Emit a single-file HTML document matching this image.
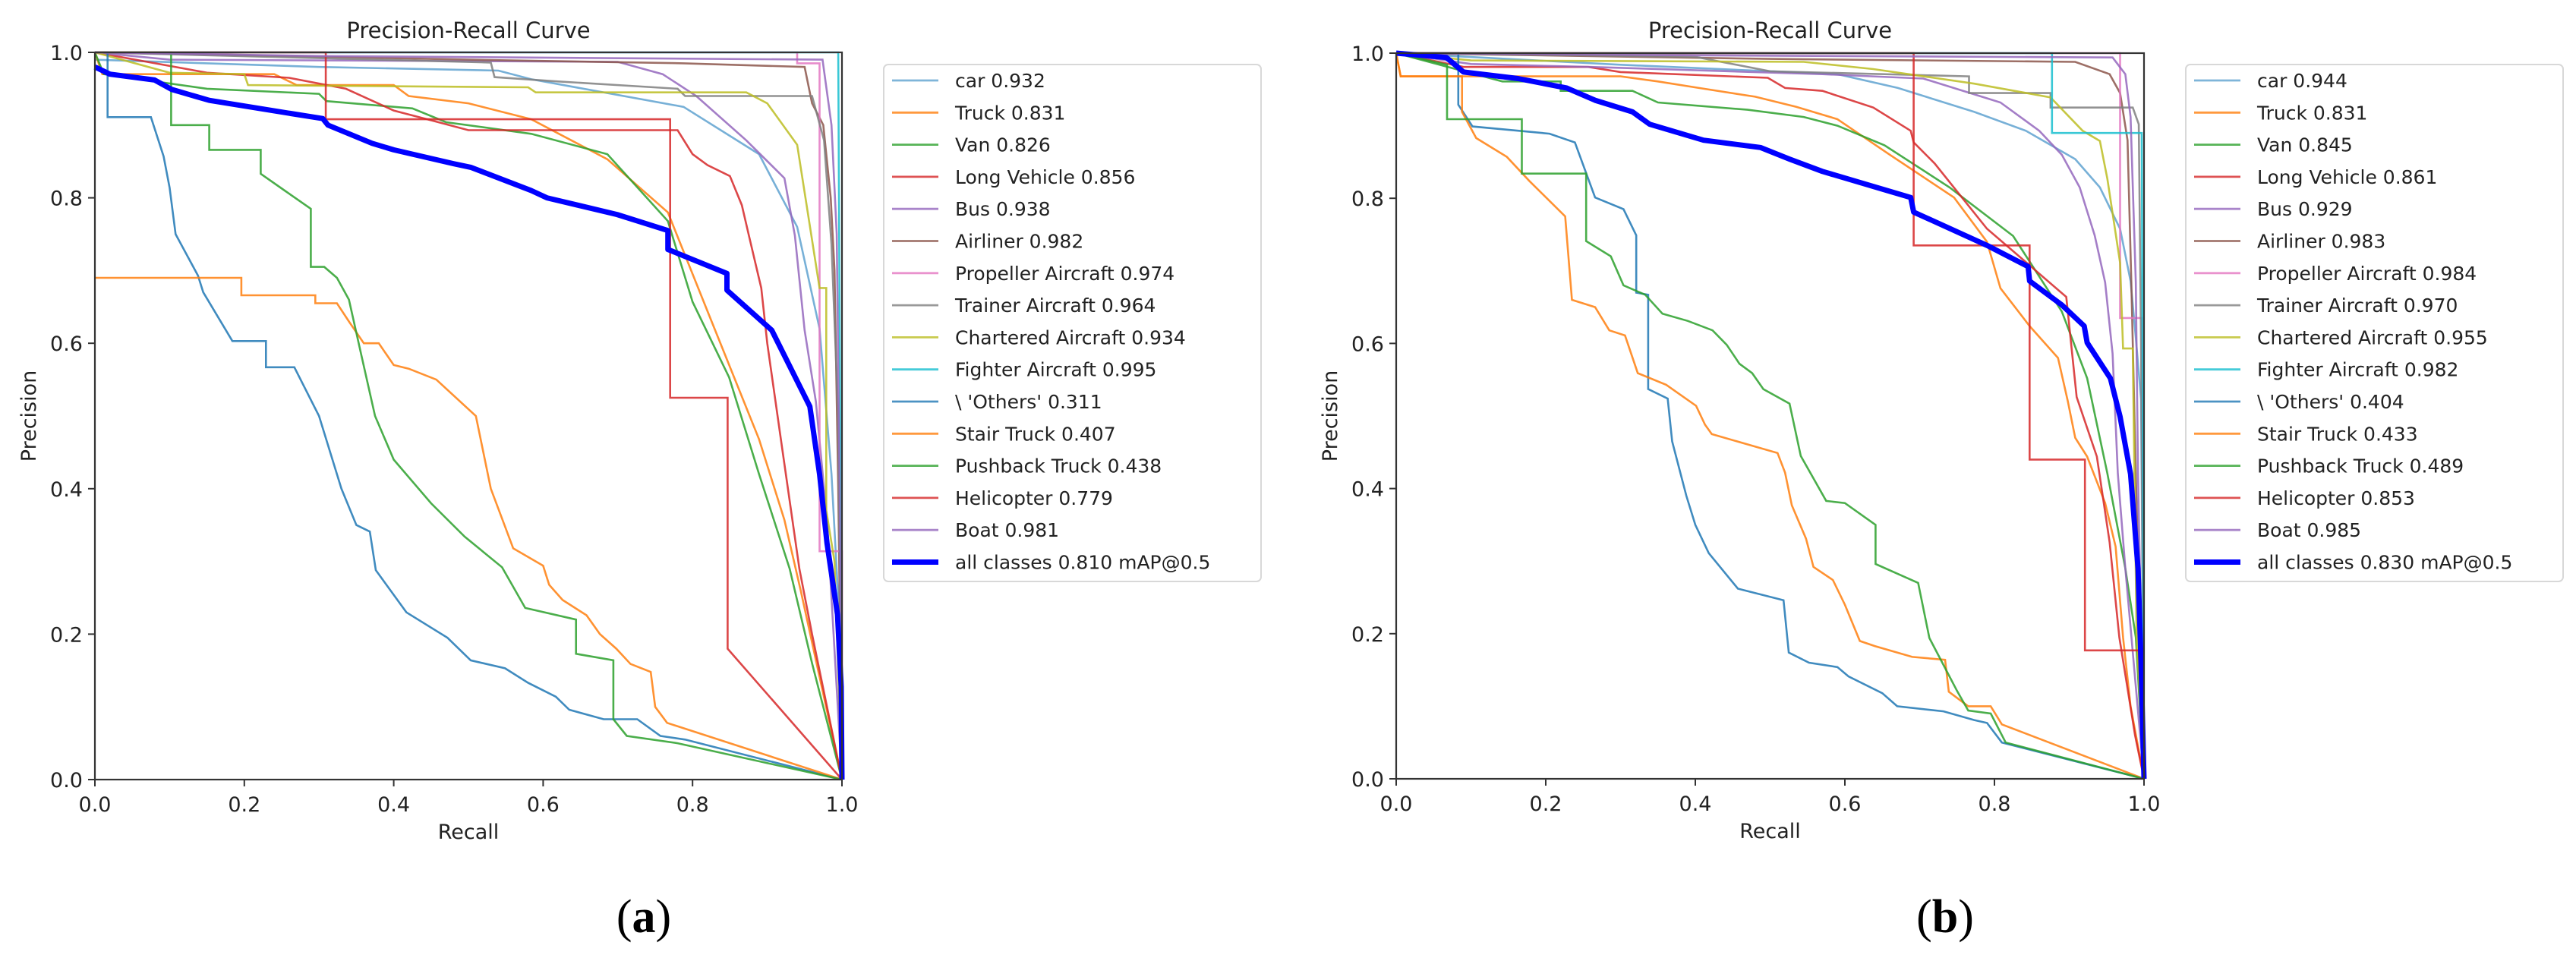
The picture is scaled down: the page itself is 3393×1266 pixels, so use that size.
<!DOCTYPE html>
<html><head><meta charset="utf-8">
<style>
html,body{margin:0;padding:0;background:#fff;}
svg{display:block;}
text{font-family:"DejaVu Sans","Liberation Sans",sans-serif;fill:#222;}
.cap{font-family:"Liberation Serif",serif;fill:#000;}
</style></head>
<body>
<svg id="fig" width="3393" height="1266" viewBox="0 0 3393 1266" xmlns="http://www.w3.org/2000/svg">
<g id="panelA"></g>
<g id="panelB"></g>
<text class="cap" x="848" y="1228" font-size="62" text-anchor="middle">(<tspan font-weight="bold">a</tspan>)</text>
<text class="cap" x="2562" y="1228" font-size="62" text-anchor="middle">(<tspan font-weight="bold">b</tspan>)</text>
</svg>
<script>
// ---- shared ----
const tickValues = [0.0, 0.2, 0.4, 0.6, 0.8, 1.0];
const tickLabels = ["0.0", "0.2", "0.4", "0.6", "0.8", "1.0"];
const classNames = ["car","Truck","Van","Long Vehicle","Bus","Airliner","Propeller Aircraft","Trainer Aircraft","Chartered Aircraft","Fighter Aircraft","\\ 'Others'","Stair Truck","Pushback Truck","Helicopter","Boat"];
const classColors = ["#5fa2d0","#ff7f0e","#2ca02c","#d62728","#9467bd","#8c564b","#e377c2","#7f7f7f","#bcbd22","#17becf","#1f77b4","#ff7f0e","#2ca02c","#d62728","#9467bd"];

// ---- panel (a) values ----
const apA = [0.932,0.831,0.826,0.856,0.938,0.982,0.974,0.964,0.934,0.995,0.311,0.407,0.438,0.779,0.981];
const mapA = 0.810;
const a_car = [[0,0.99],[0.3,0.98],[0.54,0.975],[0.584,0.963],[0.788,0.925],[0.889,0.86],[0.94,0.76],[0.97,0.62],[0.986,0.42],[0.996,0.23],[1,0]];
const a_truck = [[0,1],[0.01,0.97],[0.24,0.97],[0.27,0.955],[0.4,0.955],[0.42,0.94],[0.5,0.93],[0.584,0.908],[0.686,0.853],[0.767,0.78],[0.82,0.644],[0.889,0.468],[0.923,0.357],[0.945,0.259],[1,0]];
const a_van = [[0,1],[0.012,0.97],[0.15,0.95],[0.3,0.943],[0.31,0.933],[0.425,0.923],[0.47,0.904],[0.584,0.888],[0.686,0.86],[0.767,0.768],[0.8,0.657],[0.849,0.553],[0.889,0.42],[0.93,0.29],[0.96,0.16],[1,0]];
const a_long = [[0,1],[0.15,0.972],[0.26,0.965],[0.336,0.95],[0.4,0.92],[0.456,0.905],[0.5,0.893],[0.78,0.893],[0.8,0.86],[0.82,0.845],[0.85,0.83],[0.866,0.79],[0.875,0.75],[0.892,0.676],[0.9,0.6],[0.92,0.455],[0.943,0.29],[0.96,0.2],[1,0]];
const a_bus = [[0,1],[0.1,0.99],[0.7,0.987],[0.76,0.97],[0.805,0.94],[0.872,0.879],[0.923,0.827],[0.937,0.748],[0.95,0.618],[0.965,0.52],[0.98,0.357],[1,0]];
const a_airliner = [[0,1],[0.5,0.99],[0.788,0.985],[0.95,0.98],[0.96,0.93],[0.975,0.9],[0.985,0.8],[0.99,0.7],[0.995,0.4],[1,0]];
const a_prop = [[0,1],[0.94,1],[0.94,0.985],[0.97,0.985],[0.97,0.314],[1,0.314],[1,0]];
const a_trainer = [[0,1],[0.53,0.986],[0.535,0.966],[0.62,0.96],[0.78,0.95],[0.79,0.94],[0.96,0.94],[0.976,0.879],[0.986,0.736],[0.995,0.5],[1,0]];
const a_charter = [[0,1],[0.1,0.972],[0.2,0.97],[0.205,0.955],[0.58,0.952],[0.59,0.945],[0.872,0.945],[0.9,0.93],[0.94,0.873],[0.97,0.676],[0.979,0.676],[0.979,0.37],[0.99,0.3],[1,0]];
const a_fighter = [[0,1],[0.995,1],[1,0]];
const a_others = [[0,1],[0.017,1],[0.017,0.911],[0.075,0.911],[0.092,0.857],[0.1,0.814],[0.108,0.75],[0.138,0.693],[0.145,0.67],[0.184,0.603],[0.229,0.603],[0.229,0.567],[0.267,0.567],[0.3,0.5],[0.33,0.4],[0.35,0.35],[0.368,0.341],[0.376,0.288],[0.417,0.23],[0.472,0.195],[0.503,0.164],[0.549,0.153],[0.58,0.133],[0.617,0.114],[0.635,0.096],[0.681,0.083],[0.726,0.083],[0.757,0.06],[0.79,0.055],[1,0]];
const a_stair = [[0,0.69],[0.196,0.69],[0.196,0.666],[0.295,0.666],[0.295,0.655],[0.324,0.655],[0.34,0.63],[0.36,0.6],[0.38,0.6],[0.4,0.57],[0.42,0.565],[0.457,0.55],[0.51,0.5],[0.53,0.4],[0.56,0.318],[0.6,0.294],[0.608,0.268],[0.626,0.247],[0.658,0.226],[0.676,0.2],[0.698,0.18],[0.717,0.159],[0.744,0.148],[0.75,0.1],[0.766,0.078],[1,0]];
const a_push = [[0,1],[0.102,1],[0.102,0.9],[0.153,0.9],[0.153,0.866],[0.222,0.866],[0.222,0.833],[0.254,0.81],[0.289,0.785],[0.289,0.705],[0.307,0.705],[0.324,0.69],[0.34,0.66],[0.357,0.582],[0.375,0.5],[0.4,0.44],[0.45,0.38],[0.495,0.334],[0.545,0.292],[0.576,0.236],[0.644,0.22],[0.644,0.173],[0.694,0.164],[0.694,0.083],[0.712,0.06],[0.78,0.05],[1,0]];
const a_heli = [[0,1],[0.309,1],[0.309,0.908],[0.77,0.908],[0.77,0.525],[0.847,0.525],[0.847,0.18],[1,0]];
const a_boat = [[0,1],[0.3,0.995],[0.974,0.99],[0.986,0.9],[0.993,0.75],[0.997,0.4],[1,0]];
const a_all = [[0,0.98],[0.02,0.97],[0.08,0.962],[0.103,0.949],[0.153,0.934],[0.262,0.916],[0.305,0.909],[0.312,0.9],[0.371,0.875],[0.4,0.866],[0.48,0.847],[0.503,0.842],[0.584,0.81],[0.605,0.8],[0.699,0.777],[0.767,0.755],[0.767,0.729],[0.846,0.696],[0.846,0.673],[0.906,0.618],[0.957,0.513],[0.97,0.42],[0.98,0.325],[0.994,0.227],[0.999,0.128],[1,0]];

// ---- panel (b) values ----
const apB = [0.944,0.831,0.845,0.861,0.929,0.983,0.984,0.970,0.955,0.982,0.404,0.433,0.489,0.853,0.985];
const mapB = 0.830;
const b_car = [[0,1],[0.3,0.984],[0.59,0.971],[0.671,0.952],[0.773,0.919],[0.842,0.893],[0.908,0.854],[0.941,0.815],[0.968,0.758],[0.982,0.686],[0.989,0.608],[0.996,0.523],[1,0]];
const b_truck = [[0,1],[0.006,0.968],[0.3,0.968],[0.35,0.961],[0.405,0.952],[0.48,0.94],[0.535,0.926],[0.59,0.909],[0.66,0.86],[0.746,0.801],[0.79,0.74],[0.808,0.676],[0.847,0.624],[0.885,0.58],[0.898,0.521],[0.908,0.47],[0.924,0.444],[0.948,0.38],[0.962,0.32],[0.972,0.195],[0.982,0.1],[1,0]];
const b_van = [[0,1],[0.142,0.961],[0.22,0.961],[0.22,0.948],[0.316,0.948],[0.35,0.932],[0.47,0.922],[0.545,0.912],[0.59,0.9],[0.653,0.873],[0.74,0.815],[0.825,0.748],[0.89,0.644],[0.924,0.552],[0.951,0.421],[0.975,0.29],[0.989,0.195],[1,0]];
const b_long = [[0,1],[0.09,0.981],[0.257,0.981],[0.3,0.974],[0.497,0.966],[0.52,0.952],[0.57,0.948],[0.638,0.925],[0.688,0.893],[0.692,0.877],[0.72,0.848],[0.79,0.758],[0.842,0.712],[0.896,0.664],[0.91,0.526],[0.937,0.444],[0.954,0.326],[0.967,0.195],[0.988,0.06],[1,0]];
const b_bus = [[0,1],[0.1,0.985],[0.26,0.981],[0.57,0.971],[0.705,0.965],[0.808,0.932],[0.86,0.893],[0.89,0.86],[0.914,0.815],[0.934,0.749],[0.948,0.684],[0.958,0.586],[0.965,0.421],[0.975,0.29],[1,0]];
const b_airliner = [[0,1],[0.5,0.992],[0.908,0.988],[0.954,0.971],[0.968,0.945],[0.978,0.88],[0.983,0.684],[0.989,0.42],[1,0]];
const b_prop = [[0,1],[0.968,1],[0.968,0.635],[0.997,0.635],[1,0]];
const b_trainer = [[0,1],[0.4,0.995],[0.5,0.975],[0.766,0.968],[0.766,0.945],[0.875,0.945],[0.875,0.925],[0.985,0.925],[0.993,0.902],[0.996,0.6],[1,0]];
const b_charter = [[0,1],[0.1,0.99],[0.545,0.988],[0.638,0.978],[0.773,0.958],[0.875,0.939],[0.918,0.893],[0.941,0.879],[0.951,0.827],[0.968,0.711],[0.972,0.593],[0.985,0.593],[0.99,0.2],[1,0]];
const b_fighter = [[0,1],[0.877,1],[0.877,0.89],[0.997,0.89],[0.998,0.6],[1,0]];
const b_others = [[0,1],[0.083,1],[0.083,0.929],[0.102,0.899],[0.205,0.889],[0.239,0.877],[0.266,0.801],[0.304,0.785],[0.321,0.749],[0.321,0.67],[0.337,0.667],[0.337,0.537],[0.363,0.524],[0.369,0.465],[0.388,0.39],[0.4,0.35],[0.418,0.311],[0.457,0.262],[0.518,0.246],[0.525,0.174],[0.552,0.16],[0.59,0.154],[0.605,0.141],[0.65,0.118],[0.67,0.1],[0.732,0.093],[0.773,0.081],[0.79,0.077],[0.81,0.05],[1,0]];
const b_stair = [[0,1],[0.006,0.968],[0.088,0.968],[0.088,0.919],[0.107,0.883],[0.148,0.857],[0.178,0.824],[0.226,0.775],[0.235,0.66],[0.266,0.65],[0.285,0.618],[0.306,0.611],[0.323,0.559],[0.361,0.543],[0.401,0.514],[0.413,0.488],[0.422,0.475],[0.51,0.449],[0.52,0.422],[0.529,0.377],[0.548,0.331],[0.558,0.292],[0.584,0.274],[0.6,0.24],[0.62,0.19],[0.64,0.183],[0.69,0.168],[0.734,0.164],[0.739,0.12],[0.765,0.1],[0.795,0.1],[0.81,0.075],[1,0]];
const b_push = [[0,1],[0.068,0.984],[0.068,0.909],[0.168,0.909],[0.168,0.834],[0.254,0.834],[0.254,0.741],[0.287,0.72],[0.304,0.68],[0.333,0.667],[0.356,0.641],[0.39,0.631],[0.423,0.618],[0.442,0.598],[0.459,0.572],[0.476,0.559],[0.491,0.537],[0.526,0.517],[0.541,0.445],[0.575,0.383],[0.6,0.38],[0.641,0.35],[0.641,0.296],[0.698,0.27],[0.713,0.194],[0.75,0.121],[0.765,0.094],[0.795,0.09],[0.815,0.05],[1,0]];
const b_heli = [[0,1],[0.692,1],[0.692,0.735],[0.847,0.735],[0.847,0.44],[0.921,0.44],[0.921,0.177],[0.993,0.177],[1,0]];
const b_boat = [[0,1],[0.4,0.997],[0.958,0.994],[0.975,0.971],[0.982,0.912],[0.989,0.684],[0.992,0.42],[1,0]];
const b_all = [[0,1],[0.067,0.994],[0.09,0.974],[0.163,0.965],[0.228,0.952],[0.266,0.935],[0.316,0.919],[0.339,0.902],[0.411,0.88],[0.487,0.87],[0.526,0.854],[0.57,0.837],[0.688,0.801],[0.692,0.781],[0.79,0.735],[0.845,0.706],[0.847,0.686],[0.89,0.653],[0.92,0.624],[0.924,0.601],[0.955,0.552],[0.968,0.499],[0.982,0.42],[0.992,0.29],[0.996,0.16],[1,0]];

const seriesA = [a_car,a_truck,a_van,a_long,a_bus,a_airliner,a_prop,a_trainer,a_charter,a_fighter,a_others,a_stair,a_push,a_heli,a_boat];
const seriesB = [b_car,b_truck,b_van,b_long,b_bus,b_airliner,b_prop,b_trainer,b_charter,b_fighter,b_others,b_stair,b_push,b_heli,b_boat];

const NS = "http://www.w3.org/2000/svg";
function mk(parent, tag, attrs) {
  const e = document.createElementNS(NS, tag);
  for (const k in attrs) e.setAttribute(k, attrs[k]);
  parent.appendChild(e);
  return e;
}

function drawPanel(g, cfg, series, ap, mAP) {
  const xs = v => cfg.x0 + v * (cfg.x1 - cfg.x0);
  const ys = v => cfg.y0 - v * (cfg.y0 - cfg.y1);
  const cx = (cfg.x0 + cfg.x1) / 2, cy = (cfg.y0 + cfg.y1) / 2;

  const title = mk(g, "text", {x: cx, y: 50, "font-size": 29, "text-anchor": "middle"});
  
  
  title.textContent = "Precision-Recall Curve";

  const clip = mk(g, "clipPath", {id: "clip" + cfg.id});
  mk(clip, "rect", {x: cfg.x0 - 4, y: cfg.y1 - 4, width: cfg.x1 - cfg.x0 + 8, height: cfg.y0 - cfg.y1 + 8});
  const plot = mk(g, "g", {"clip-path": "url(#clip" + cfg.id + ")"});
  
  

  series.forEach((pts, i) => {
    const d = pts.map((p, j) => (j ? "L" : "M") + xs(p[0]).toFixed(1) + " " + ys(p[1]).toFixed(1)).join(" ");
    const path = mk(plot, "path", {d: d, fill: "none", stroke: classColors[i], "stroke-width": 2.6, "stroke-opacity": 0.85, "stroke-linejoin": "miter"});
    
    
  });
  const allPts = cfg.all;
  const dAll = allPts.map((p, j) => (j ? "L" : "M") + xs(p[0]).toFixed(1) + " " + ys(p[1]).toFixed(1)).join(" ");
  const allPath = mk(plot, "path", {d: dAll, fill: "none", stroke: "#0000ff", "stroke-width": 7, "stroke-linejoin": "round"});
  
  

  const frame = mk(g, "rect", {x: cfg.x0, y: cfg.y1, width: cfg.x1 - cfg.x0, height: cfg.y0 - cfg.y1, fill: "none", stroke: "#333", "stroke-width": 2.2});
  
  

  tickValues.forEach((v, i) => {
    mk(g, "line", {x1: xs(v), x2: xs(v), y1: cfg.y0, y2: cfg.y0 + 9, stroke: "#333", "stroke-width": 2});
    const tx = mk(g, "text", {x: xs(v), y: cfg.y0 + 42, "font-size": 27, "text-anchor": "middle"});
    
    
    tx.textContent = tickLabels[i];
    mk(g, "line", {x1: cfg.x0 - 9, x2: cfg.x0, y1: ys(v), y2: ys(v), stroke: "#333", "stroke-width": 2});
    const ty = mk(g, "text", {x: cfg.x0 - 16, y: ys(v) + 10, "font-size": 27, "text-anchor": "end"});
    
    
    ty.textContent = tickLabels[i];
  });

  const xl = mk(g, "text", {x: cx, y: cfg.y0 + 78, "font-size": 27, "text-anchor": "middle"});
  
  
  xl.textContent = "Recall";
  const yl = mk(g, "text", {x: 0, y: 0, "font-size": 27, "text-anchor": "middle", transform: "translate(" + (cfg.x0 - 78) + "," + cy + ") rotate(-90)"});
  
  
  yl.textContent = "Precision";

  const lg = mk(g, "g", {});
  
  
  mk(lg, "rect", {x: cfg.lx, y: 85, width: 497, height: 681, rx: 6, fill: "#fff", stroke: "#d8d8d8", "stroke-width": 2});
  const step = 42.3;
  for (let i = 0; i < 16; i++) {
    const yy = 106 + i * step;
    const isAll = i === 15;
    const entry = mk(lg, "g", {});
    
    
    mk(entry, "line", {x1: cfg.lx + 11, x2: cfg.lx + 72, y1: yy, y2: yy, stroke: isAll ? "#0000ff" : classColors[i], "stroke-width": isAll ? 7 : 2.8, "stroke-opacity": isAll ? 1 : 0.8});
    const t = mk(entry, "text", {x: cfg.lx + 94, y: yy + 9, "font-size": 25});
    t.textContent = isAll ? ("all classes " + mAP.toFixed(3) + " mAP@0.5") : (classNames[i] + " " + ap[i].toFixed(3));
  }
}

drawPanel(document.getElementById("panelA"), {id: "A", x0: 125, x1: 1109, y0: 1027, y1: 69, lx: 1164, all: a_all}, seriesA, apA, mapA);
drawPanel(document.getElementById("panelB"), {id: "B", x0: 1839, x1: 2824, y0: 1026, y1: 70, lx: 2879, all: b_all}, seriesB, apB, mapB);
</script>
</body></html>
